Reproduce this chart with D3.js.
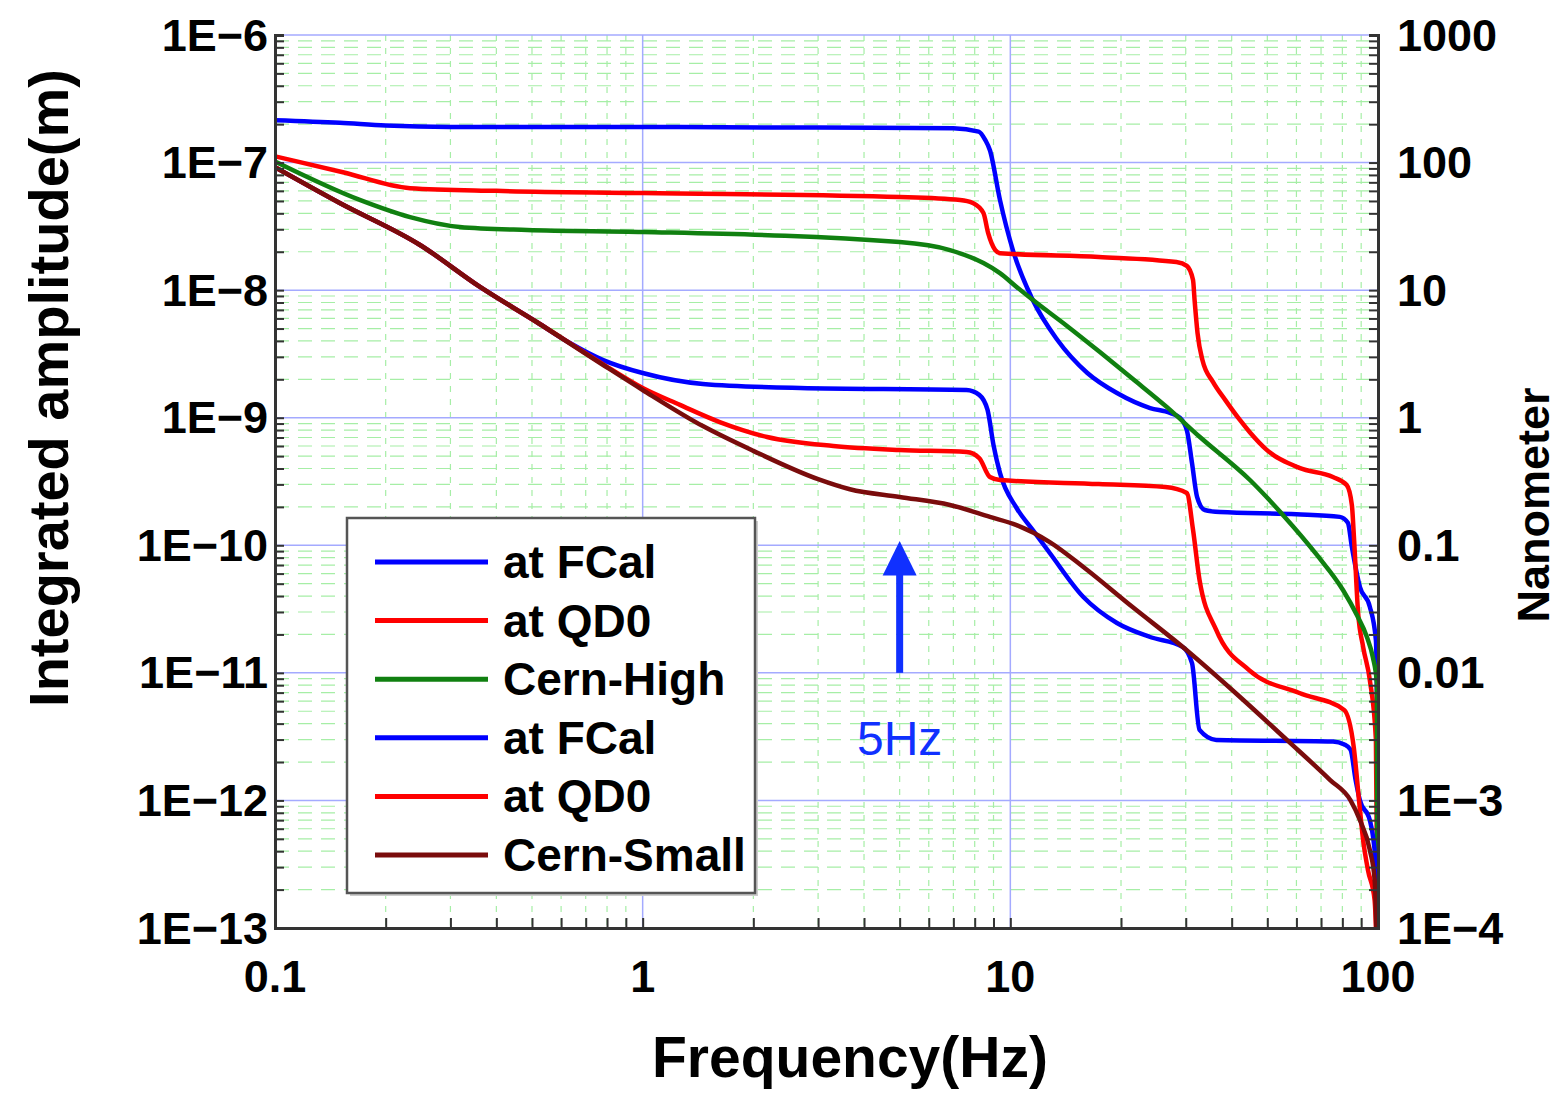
<!DOCTYPE html>
<html>
<head>
<meta charset="utf-8">
<script src="https://cdn.jsdelivr.net/npm/d3@7"></script>
<style>
  body { margin: 0; background: #fff; }
  text { font-family: "Liberation Sans", Arial, sans-serif; }
</style>
</head>
<body>
<script>
// integrated amplitude [frequency Hz, metres]
const fcalHigh = [[0.1,2.15e-7],[0.15,2.05e-7],[0.2,1.95e-7],[0.3,1.9e-7],[1,1.9e-7],[3,1.88e-7],[7,1.86e-7],[8.2,1.75e-7],[8.55,1.5e-7],[8.8,1.25e-7],[9.37,5.1e-8],[10.16,2.06e-8],[11.5,8.4e-9],[13.4,4.1e-9],[16.2,2.24e-9],[19.5,1.56e-9],[24,1.19e-9],[27.2,1.09e-9],[28.9,1.0e-9],[30.2,8.0e-10],[31.2,4.4e-10],[32.2,2.4e-10],[33.8,1.89e-10],[37.2,1.82e-10],[60,1.75e-10],[78.7,1.67e-10],[82.8,1.5e-10],[84.9,9.7e-11],[89.3,4.7e-11],[95,3.3e-11],[98.7,1.8e-11],[99.6,2e-12],[99.95,1e-14]]
const qd0High = [[0.1,1.12e-7],[0.153,8.4e-8],[0.233,6.3e-8],[0.4,6.0e-8],[1,5.77e-8],[5,5.37e-8],[7.3,5.09e-8],[7.9,4.82e-8],[8.45,4.02e-8],[8.7,2.81e-8],[9.1,2.06e-8],[9.37,1.95e-8],[17.4,1.82e-8],[28.3,1.66e-8],[30.2,1.55e-8],[31.4,1.2e-8],[31.7,8.4e-9],[32.3,4.6e-9],[33.3,2.83e-9],[35.6,1.9e-9],[38.4,1.38e-9],[42.1,9.6e-10],[44.8,7.7e-10],[49.8,5.6e-10],[61.1,4.04e-10],[75.4,3.43e-10],[82.2,2.97e-10],[84.9,2.07e-10],[86.1,1.1e-10],[88.3,2.94e-11],[91.1,1.6e-11],[95,8.8e-12],[98.7,3e-12],[99.7,1e-13],[99.95,1e-14]]
const cernHigh = [[0.1,1.02e-7],[0.17,5.1e-8],[0.233,3.74e-8],[0.318,3.13e-8],[0.485,2.96e-8],[1,2.86e-8],[5,2.38e-8],[6.85,2.06e-8],[8.45,1.63e-8],[9.37,1.36e-8],[10.4,1.06e-8],[11.5,8.4e-9],[14.26,5.24e-9],[17.52,3.27e-9],[21.55,2.01e-9],[26.67,1.21e-9],[32.78,7.06e-10],[44.84,3.25e-10],[55.13,1.73e-10],[68.2,8.4e-11],[80.3,4.46e-11],[87.6,2.84e-11],[93.3,1.91e-11],[96.8,1.33e-11],[99.3,8.3e-12],[99.8,1e-14]]
const fcalSmall = [[0.1,9.2e-8],[0.15,4.82e-8],[0.248,2.26e-8],[0.361,1.06e-8],[0.516,5.6e-9],[0.634,3.85e-9],[0.781,2.83e-9],[1,2.24e-9],[1.458,1.84e-9],[2.68,1.71e-9],[7.6,1.65e-9],[8.23,1.51e-9],[8.67,1.15e-9],[9.0,6.1e-10],[9.37,3.69e-10],[10.4,1.96e-10],[11.5,1.32e-10],[12.8,8.7e-11],[15.8,3.93e-11],[19.5,2.46e-11],[24,1.91e-11],[29.4,1.6e-11],[31.2,1.19e-11],[32.7,3.57e-12],[36.3,2.98e-12],[75.4,2.9e-12],[81,2.75e-12],[84.2,2.5e-12],[86.9,1.45e-12],[89.3,1.0e-12],[95,7e-13],[98.4,3.4e-13],[99.5,5e-14]]
const qd0Small = [[0.1,9.2e-8],[0.15,4.82e-8],[0.248,2.26e-8],[0.361,1.06e-8],[0.516,5.6e-9],[0.781,2.62e-9],[1,1.71e-9],[1.263,1.26e-9],[1.62,9.25e-10],[2.18,7.06e-10],[3.3,6.0e-10],[5,5.58e-10],[7.6,5.38e-10],[8.23,4.83e-10],[8.8,3.43e-10],[9.37,3.25e-10],[17.4,3.02e-10],[26.4,2.86e-10],[30.2,2.57e-10],[31.4,1.32e-10],[32.7,5.35e-11],[36.3,2.17e-11],[44.6,1.05e-11],[61.1,6.95e-12],[80.9,5.12e-12],[85.9,2.62e-12],[88.8,1.0e-12],[91.1,4.9e-13],[93.9,2.85e-13],[97.9,1.66e-13],[99.5,5e-14]]
const cernSmall = [[0.1,9.2e-8],[0.15,4.82e-8],[0.248,2.26e-8],[0.361,1.06e-8],[0.516,5.6e-9],[0.781,2.59e-9],[1,1.65e-9],[1.458,8.6e-10],[2,5.5e-10],[3,3.3e-10],[3.66,2.75e-10],[5,2.39e-10],[6.85,2.07e-10],[8.8,1.67e-10],[10.4,1.44e-10],[12.8,1.06e-10],[15.8,6.76e-11],[21.5,3.28e-11],[29.4,1.6e-11],[40.2,7.3e-12],[56.5,2.98e-12],[74,1.45e-12],[84.2,1.0e-12],[89.3,7.0e-13],[95,4.1e-13],[97.9,2.4e-13],[98.9,1e-13],[99.5,3e-14]]

const seriesNames = ['at FCal', 'at QD0', 'Cern-High', 'at FCal', 'at QD0', 'Cern-Small']
const seriesColors = ['#0000ff', '#ff0000', '#108010', '#0000ff', '#ff0000', '#7a0c0c']
const seriesData = [fcalHigh, qd0High, cernHigh, fcalSmall, qd0Small, cernSmall]

const xTicks = [0.1, 1, 10, 100]
const xTickLabels = ['0.1', '1', '10', '100']
const yTicks = [1e-13, 1e-12, 1e-11, 1e-10, 1e-9, 1e-8, 1e-7, 1e-6]
const yTickLabels = ['1E−13', '1E−12', '1E−11', '1E−10', '1E−9', '1E−8', '1E−7', '1E−6']
const nmTicks = [1e-4, 1e-3, 0.01, 0.1, 1, 10, 100, 1000]
const nmTickLabels = ['1E−4', '1E−3', '0.01', '0.1', '1', '10', '100', '1000']

const dimensions = { width: 1558, height: 1094 }
const plot = { left: 275, top: 35, right: 1378, bottom: 928 }

const svg = d3.select('body').append('svg')
    .attr('width', dimensions.width)
    .attr('height', dimensions.height)

const x = d3.scaleLog().domain([0.1, 100]).range([plot.left, plot.right])
const y = d3.scaleLog().domain([1e-13, 1e-6]).range([plot.bottom, plot.top])
const yNm = d3.scaleLog().domain([1e-4, 1000]).range([plot.bottom, plot.top])

// minor values 2..9 inside each decade
function minors(lo, hi) {
    const out = []
    for (let e = lo; e < hi; e++) {
        for (let k = 2; k <= 9; k++) out.push(k * Math.pow(10, e))
    }
    return out
}
const xMinor = minors(-1, 2)
const yMinor = minors(-13, -6)

const grid = svg.append('g')
grid.selectAll('.vminor').data(xMinor).enter().append('line')
    .attr('x1', d => x(d)).attr('x2', d => x(d))
    .attr('y1', plot.top).attr('y2', plot.bottom)
    .attr('stroke', '#a6eea6').attr('stroke-width', 1.2)
    .attr('stroke-dasharray', '6,7')
grid.selectAll('.hminor').data(yMinor).enter().append('line')
    .attr('x1', plot.left).attr('x2', plot.right)
    .attr('y1', d => y(d)).attr('y2', d => y(d))
    .attr('stroke', '#a6eea6').attr('stroke-width', 1.2)
    .attr('stroke-dasharray', '14,9')
grid.selectAll('.vmajor').data(xTicks).enter().append('line')
    .attr('x1', d => x(d)).attr('x2', d => x(d))
    .attr('y1', plot.top).attr('y2', plot.bottom)
    .attr('stroke', '#a4aaff').attr('stroke-width', 1.5)
grid.selectAll('.hmajor').data(yTicks).enter().append('line')
    .attr('x1', plot.left).attr('x2', plot.right)
    .attr('y1', d => y(d)).attr('y2', d => y(d))
    .attr('stroke', '#a4aaff').attr('stroke-width', 1.5)

svg.append('clipPath').attr('id', 'clip').append('rect')
    .attr('x', plot.left).attr('y', plot.top)
    .attr('width', plot.right - plot.left).attr('height', plot.bottom - plot.top)

const line = d3.line()
    .x(d => x(d[0]))
    .y(d => y(d[1]))
    .curve(d3.curveMonotoneX)

svg.append('g').attr('clip-path', 'url(#clip)')
    .selectAll('path')
    .data(seriesData)
    .enter()
    .append('path')
    .attr('d', line)
    .attr('fill', 'none')
    .attr('stroke', (d, i) => seriesColors[i])
    .attr('stroke-width', 4.5)
    .attr('stroke-linejoin', 'round')

// axes, ticks pointing inward
const tickFmt = () => ''
svg.append('g').attr('transform', `translate(${plot.left},0)`)
    .call(d3.axisRight(y).tickValues(yTicks.concat(yMinor)).tickFormat(tickFmt).tickSizeOuter(0).tickSize(9))
svg.append('g').attr('transform', `translate(${plot.right},0)`)
    .call(d3.axisLeft(y).tickValues(yTicks.concat(yMinor)).tickFormat(tickFmt).tickSizeOuter(0).tickSize(9))
svg.append('g').attr('transform', `translate(0,${plot.bottom})`)
    .call(d3.axisTop(x).tickValues(xTicks.concat(xMinor)).tickFormat(tickFmt).tickSizeOuter(0).tickSize(10))
svg.selectAll('.domain').attr('stroke', '#333').attr('stroke-width', 3)
svg.selectAll('.tick line').attr('stroke', '#333').attr('stroke-width', 2)

// labels
svg.append('g').selectAll('text').data(yTicks).enter().append('text')
    .attr('x', 268).attr('y', d => y(d))
    .attr('text-anchor', 'end').attr('dominant-baseline', 'central')
    .attr('font-size', 45).attr('font-weight', 'bold')
    .text((d, i) => yTickLabels[i])
svg.append('g').selectAll('text').data(nmTicks).enter().append('text')
    .attr('x', 1397).attr('y', d => yNm(d))
    .attr('text-anchor', 'start').attr('dominant-baseline', 'central')
    .attr('font-size', 45).attr('font-weight', 'bold')
    .text((d, i) => nmTickLabels[i])
svg.append('g').selectAll('text').data(xTicks).enter().append('text')
    .attr('x', d => x(d)).attr('y', 976)
    .attr('text-anchor', 'middle').attr('dominant-baseline', 'central')
    .attr('font-size', 45).attr('font-weight', 'bold')
    .text((d, i) => xTickLabels[i])

svg.append('text')
    .attr('x', 850).attr('y', 1057)
    .attr('text-anchor', 'middle').attr('dominant-baseline', 'central')
    .attr('font-size', 57).attr('font-weight', 'bold')
    .text('Frequency(Hz)')
svg.append('text')
    .attr('transform', 'translate(48,388) rotate(-90)')
    .attr('text-anchor', 'middle').attr('dominant-baseline', 'central')
    .attr('font-size', 56).attr('font-weight', 'bold')
    .text('Integrated amplitude(m)')
svg.append('text')
    .attr('transform', 'translate(1533,505) rotate(-90)')
    .attr('text-anchor', 'middle').attr('dominant-baseline', 'central')
    .attr('font-size', 45).attr('font-weight', 'bold')
    .text('Nanometer')

// 5Hz marker
const arrowX = x(5)
svg.append('line')
    .attr('x1', arrowX).attr('x2', arrowX)
    .attr('y1', y(1.0e-11)).attr('y2', y(7e-11))
    .attr('stroke', '#1030ff').attr('stroke-width', 7)
svg.append('path')
    .attr('d', `M${arrowX},${y(1.08e-10)} L${arrowX - 17},${y(5.8e-11)} L${arrowX + 17},${y(5.8e-11)} Z`)
    .attr('fill', '#1030ff')
svg.append('text')
    .attr('x', arrowX).attr('y', 738)
    .attr('text-anchor', 'middle').attr('dominant-baseline', 'central')
    .attr('font-size', 48).attr('fill', '#1030ff')
    .text('5Hz')

// legend
const legend = svg.append('g').attr('transform', 'translate(347,518)')
legend.append('rect')
    .attr('x', 3).attr('y', 3).attr('width', 408).attr('height', 375)
    .attr('fill', '#ccc')
legend.append('rect')
    .attr('width', 408).attr('height', 375)
    .attr('fill', '#fff').attr('stroke', '#555').attr('stroke-width', 2.5)
const items = legend.selectAll('.item').data(seriesNames).enter().append('g')
    .attr('transform', (d, i) => `translate(0,${44 + i * 58.6})`)
items.append('line')
    .attr('x1', 28).attr('x2', 141)
    .attr('stroke', (d, i) => seriesColors[i]).attr('stroke-width', 5)
items.append('text')
    .attr('x', 156).attr('dominant-baseline', 'central')
    .attr('font-size', 46).attr('font-weight', 'bold')
    .text(d => d)
</script>
</body>
</html>
